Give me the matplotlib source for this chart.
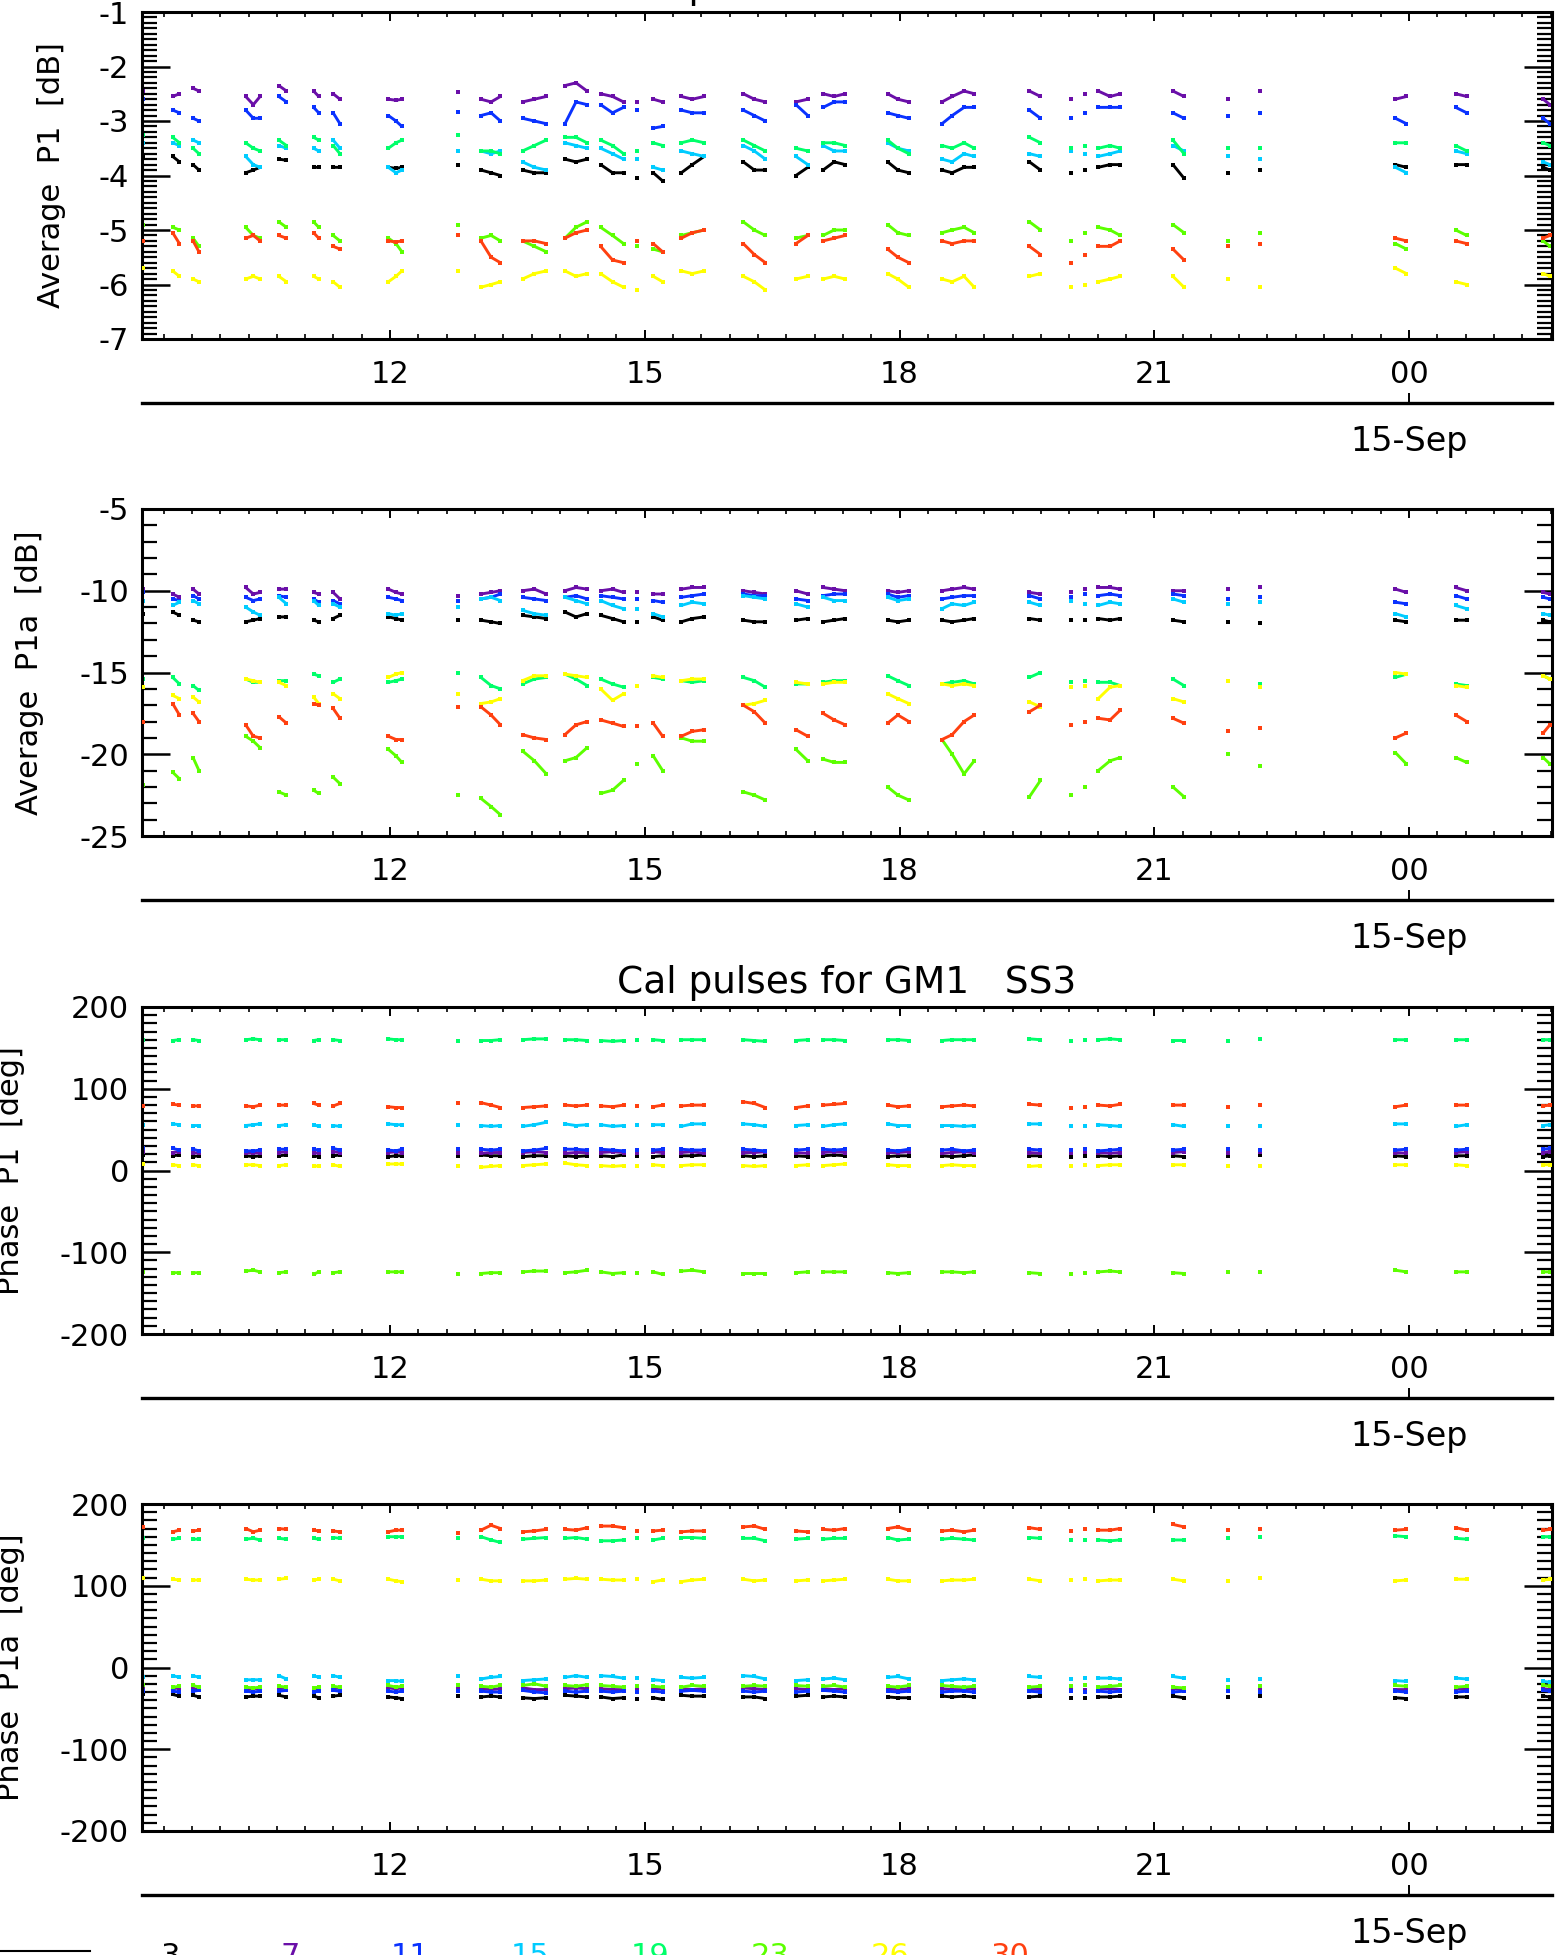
import numpy as np
import matplotlib
matplotlib.use("Agg")
import matplotlib.pyplot as plt
from matplotlib.ticker import MultipleLocator, FuncFormatter

plt.rcParams['font.family'] = ['DejaVu Sans']
plt.rcParams['axes.unicode_minus'] = False

# ---------------- data ----------------
channels = ['3', '7', '11', '15', '19', '23', '26', '30']
channel_colors = ['#000000', '#6a0fa8', '#0a32ff', '#00ccff', '#00ff6a', '#5cff00', '#ffff00', '#ff4010']

title_text = 'Cal pulses for GM1   SS3'
date_tick_hour = 24.0
date_tick_label = '15-Sep'
x_range_hours = (9.073, 25.684)

# observation times (hours since 14-Sep 00:00)
time_h = [9.09,
          9.44, 9.52, 9.68, 9.75,
          10.30, 10.39, 10.47,
          10.69, 10.78,
          11.10, 11.16,
          11.33, 11.41,
          11.98, 12.07, 12.14,
          12.80,
          13.07, 13.19, 13.30,
          13.56, 13.70, 13.84,
          14.06, 14.19, 14.32,
          14.48, 14.62, 14.75,
          14.91,
          15.10, 15.21,
          15.43, 15.56, 15.70,
          16.16, 16.29, 16.42,
          16.78, 16.92,
          17.10, 17.23, 17.36,
          17.86, 17.98, 18.11,
          18.50, 18.62, 18.76, 18.88,
          19.53, 19.66,
          20.02, 20.18, 20.34, 20.48, 20.60,
          21.22, 21.35,
          21.87,
          22.24,
          23.84, 23.97,
          24.55, 24.68,
          25.58, 25.66]

# ---- Average P1 [dB] ----
amp_p1_ch03 = [-3.65, -3.65, -3.75, -3.8, -3.9, -3.95, -3.9, -3.85, -3.7, -3.72, -3.85, -3.85, -3.85, -3.85,
               -3.85, -3.87, -3.85, -3.8, -3.9, -3.95, -4.0, -3.9, -3.95, -3.95, -3.7, -3.75, -3.7,
               -3.8, -3.95, -3.95, -4.05, -3.95, -4.1, -3.95, -3.8, -3.65, -3.75, -3.9, -3.9, -4.0, -3.85,
               -3.9, -3.75, -3.8, -3.75, -3.9, -3.95, -3.9, -3.95, -3.85, -3.85, -3.75, -3.9,
               -3.95, -3.9, -3.85, -3.8, -3.8, -3.8, -4.05, -3.95, -3.9, -3.8, -3.85, -3.8, -3.8, -3.85, -3.9]
amp_p1_ch07 = [-2.45, -2.55, -2.5, -2.4, -2.45, -2.55, -2.7, -2.55, -2.35, -2.45, -2.45, -2.55, -2.5, -2.6,
               -2.6, -2.62, -2.6, -2.47, -2.6, -2.65, -2.55, -2.65, -2.6, -2.55, -2.35, -2.3, -2.45,
               -2.5, -2.55, -2.65, -2.65, -2.6, -2.65, -2.55, -2.6, -2.55, -2.5, -2.6, -2.65, -2.65, -2.6,
               -2.5, -2.55, -2.5, -2.5, -2.6, -2.65, -2.65, -2.55, -2.45, -2.5, -2.45, -2.55,
               -2.6, -2.5, -2.45, -2.55, -2.5, -2.45, -2.55, -2.6, -2.45, -2.6, -2.55, -2.5, -2.55, -2.6, -2.7]
amp_p1_ch11 = [-2.6, -2.8, -2.85, -2.95, -3.0, -2.8, -2.95, -2.95, -2.55, -2.65, -2.75, -2.85, -2.85, -3.05,
               -2.9, -3.0, -3.1, -2.83, -2.9, -2.85, -3.0, -2.95, -3.0, -3.05, -3.05, -2.65, -2.7,
               -2.7, -2.85, -2.75, -2.8, -3.13, -3.1, -2.8, -2.85, -2.85, -2.8, -2.9, -3.0, -2.7, -2.9,
               -2.75, -2.65, -2.65, -2.85, -2.9, -2.95, -3.05, -2.9, -2.75, -2.75, -2.8, -2.95,
               -2.95, -2.85, -2.75, -2.75, -2.75, -2.85, -2.95, -2.9, -2.85, -2.95, -3.05, -2.75, -2.85, -2.95, -3.05]
amp_p1_ch15 = [-3.4, -3.4, -3.45, -3.35, -3.4, -3.65, -3.8, -3.85, -3.45, -3.5, -3.5, -3.55, -3.35, -3.5,
               -3.85, -3.95, -3.9, -3.55, -3.55, -3.6, -3.55, -3.75, -3.85, -3.9, -3.4, -3.45, -3.5,
               -3.5, -3.6, -3.7, -3.7, -3.85, -3.9, -3.55, -3.6, -3.65, -3.45, -3.55, -3.7, -3.65, -3.8,
               -3.45, -3.55, -3.55, -3.4, -3.5, -3.55, -3.7, -3.75, -3.6, -3.65, -3.6, -3.65,
               -3.55, -3.6, -3.65, -3.6, -3.55, -3.45, -3.55, -3.65, -3.7, -3.85, -3.95, -3.55, -3.6, -3.75, -3.8]
amp_p1_ch19 = [-3.25, -3.3, -3.4, -3.5, -3.6, -3.4, -3.5, -3.55, -3.35, -3.45, -3.3, -3.35, -3.45, -3.6,
               -3.5, -3.4, -3.35, -3.25, -3.55, -3.55, -3.6, -3.55, -3.45, -3.35, -3.3, -3.3, -3.4,
               -3.35, -3.45, -3.6, -3.55, -3.4, -3.45, -3.4, -3.35, -3.4, -3.35, -3.45, -3.55, -3.5, -3.55,
               -3.4, -3.4, -3.45, -3.35, -3.5, -3.6, -3.45, -3.5, -3.4, -3.5, -3.3, -3.4,
               -3.5, -3.45, -3.5, -3.45, -3.5, -3.35, -3.6, -3.5, -3.5, -3.4, -3.4, -3.45, -3.55, -3.4, -3.45]
amp_p1_ch23 = [-4.9, -4.95, -5.0, -5.15, -5.3, -4.95, -5.1, -5.15, -4.85, -4.95, -4.85, -4.95, -5.1, -5.2,
               -5.15, -5.25, -5.4, -4.9, -5.15, -5.1, -5.2, -5.2, -5.3, -5.4, -5.15, -4.95, -4.85,
               -4.95, -5.1, -5.25, -5.3, -5.35, -5.4, -5.1, -5.05, -5.0, -4.85, -5.0, -5.1, -5.15, -5.1,
               -5.1, -5.0, -5.0, -4.9, -5.05, -5.1, -5.05, -5.0, -4.95, -5.05, -4.85, -5.0,
               -5.2, -5.05, -4.95, -5.0, -5.1, -4.9, -5.05, -5.2, -5.05, -5.25, -5.35, -5.0, -5.1, -5.2, -5.3]
amp_p1_ch26 = [-5.7, -5.75, -5.85, -5.9, -5.95, -5.9, -5.85, -5.9, -5.85, -5.95, -5.85, -5.9, -5.95, -6.05,
               -5.95, -5.85, -5.75, -5.75, -6.05, -6.0, -5.95, -5.9, -5.8, -5.75, -5.75, -5.85, -5.8,
               -5.8, -5.95, -6.05, -6.1, -5.85, -5.95, -5.75, -5.8, -5.75, -5.85, -5.95, -6.1, -5.9, -5.85,
               -5.9, -5.85, -5.9, -5.8, -5.9, -6.05, -5.9, -5.95, -5.85, -6.05, -5.85, -5.8,
               -6.05, -6.0, -5.95, -5.9, -5.85, -5.85, -6.05, -5.9, -6.05, -5.7, -5.8, -5.95, -6.0, -5.8, -5.85]
amp_p1_ch30 = [-5.2, -5.05, -5.25, -5.2, -5.4, -5.15, -5.1, -5.2, -5.1, -5.15, -5.05, -5.15, -5.3, -5.35,
               -5.2, -5.22, -5.2, -5.1, -5.2, -5.5, -5.6, -5.2, -5.2, -5.25, -5.15, -5.05, -5.0,
               -5.3, -5.55, -5.6, -5.2, -5.25, -5.4, -5.15, -5.05, -5.0, -5.25, -5.45, -5.6, -5.25, -5.1,
               -5.2, -5.15, -5.1, -5.35, -5.5, -5.6, -5.2, -5.25, -5.2, -5.2, -5.3, -5.45,
               -5.6, -5.45, -5.3, -5.3, -5.2, -5.35, -5.55, -5.3, -5.25, -5.15, -5.2, -5.2, -5.25, -5.15, -5.1]

# ---- Average P1a [dB] ----
amp_p1a_ch03 = [-11.4, -11.3, -11.5, -11.8, -11.9, -11.9, -11.8, -11.7, -11.6, -11.6, -11.8, -11.9, -11.7, -11.5,
                -11.6, -11.7, -11.8, -11.8, -11.8, -11.9, -12.0, -11.5, -11.6, -11.7, -11.3, -11.6, -11.4,
                -11.5, -11.7, -11.9, -11.9, -11.6, -11.8, -11.9, -11.7, -11.6, -11.8, -11.9, -11.9, -11.8, -11.7,
                -11.9, -11.8, -11.7, -11.8, -11.9, -11.8, -11.8, -11.9, -11.8, -11.7, -11.7, -11.8,
                -11.8, -11.8, -11.7, -11.8, -11.7, -11.8, -11.9, -11.9, -12.0, -11.8, -11.9, -11.8, -11.8, -11.8, -11.9]
amp_p1a_ch07 = [-9.9, -10.2, -10.4, -9.9, -10.2, -9.8, -10.2, -10.1, -9.9, -9.9, -10.1, -10.2, -10.1, -10.5,
                -9.9, -10.1, -10.2, -10.3, -10.2, -10.1, -10.0, -10.0, -9.9, -10.2, -10.0, -9.8, -9.9,
                -10.0, -9.9, -10.1, -10.1, -10.2, -10.2, -9.9, -9.8, -9.8, -10.0, -10.1, -10.2, -10.0, -10.2,
                -9.8, -9.9, -10.0, -10.0, -10.1, -10.0, -10.0, -9.9, -9.8, -9.9, -10.1, -10.2,
                -10.1, -9.9, -9.8, -9.8, -9.9, -10.0, -10.0, -9.9, -9.8, -9.9, -10.1, -9.8, -10.0, -10.1, -10.2]
amp_p1a_ch11 = [-10.1, -10.5, -10.6, -10.3, -10.5, -10.4, -10.6, -10.5, -10.3, -10.4, -10.5, -10.7, -10.6, -10.8,
                -10.4, -10.5, -10.6, -10.6, -10.5, -10.4, -10.2, -10.4, -10.5, -10.6, -10.4, -10.3, -10.5,
                -10.3, -10.4, -10.5, -10.5, -10.6, -10.7, -10.4, -10.3, -10.2, -10.2, -10.3, -10.3, -10.5, -10.6,
                -10.3, -10.2, -10.2, -10.2, -10.4, -10.3, -10.5, -10.4, -10.3, -10.3, -10.3, -10.5,
                -10.4, -10.2, -10.3, -10.2, -10.3, -10.2, -10.3, -10.5, -10.4, -10.7, -10.8, -10.3, -10.5, -10.4, -10.5]
amp_p1a_ch15 = [-10.6, -10.9, -10.7, -10.6, -10.8, -11.0, -11.3, -11.5, -10.4, -10.8, -10.6, -10.9, -10.8, -11.0,
                -11.4, -11.5, -11.4, -11.0, -10.5, -10.4, -10.6, -11.2, -11.4, -11.5, -10.4, -10.6, -10.8,
                -10.6, -10.9, -11.1, -11.1, -11.4, -11.6, -10.9, -10.7, -10.8, -10.3, -10.4, -10.5, -10.8, -11.0,
                -10.4, -10.6, -10.6, -10.4, -10.6, -10.5, -11.1, -10.8, -10.9, -10.7, -10.7, -10.9,
                -10.6, -10.8, -10.9, -10.7, -10.8, -10.5, -10.7, -10.8, -10.7, -11.4, -11.6, -10.9, -11.1, -11.4, -11.5]
amp_p1a_ch19 = [-15.4, -15.3, -15.7, -15.8, -16.1, -15.4, -15.6, -15.6, -15.5, -15.5, -15.1, -15.2, -15.6, -15.4,
                -15.6, -15.5, -15.4, -15.0, -15.3, -15.8, -16.0, -15.7, -15.4, -15.3, -15.1, -15.4, -15.8,
                -15.4, -15.7, -15.9, -15.8, -15.3, -15.4, -15.5, -15.6, -15.5, -15.3, -15.5, -15.9, -15.7, -15.7,
                -15.6, -15.5, -15.5, -15.2, -15.5, -15.8, -15.7, -15.6, -15.5, -15.7, -15.3, -15.0,
                -15.6, -15.5, -15.6, -15.6, -15.8, -15.4, -15.8, -15.5, -15.7, -15.3, -15.1, -15.7, -15.8, -15.2, -15.4]
amp_p1a_ch23 = [-21.9, -21.1, -21.5, -20.2, -21.0, -18.9, -19.2, -19.6, -22.3, -22.5, -22.2, -22.4, -21.4, -21.8,
                -19.7, -20.1, -20.5, -22.5, -22.7, -23.2, -23.7, -19.8, -20.4, -21.2, -20.4, -20.2, -19.6,
                -22.4, -22.2, -21.6, -20.6, -20.1, -21.0, -19.0, -19.2, -19.2, -22.3, -22.5, -22.8, -19.7, -20.4,
                -20.3, -20.5, -20.5, -22.0, -22.5, -22.8, -19.1, -20.0, -21.2, -20.4, -22.6, -21.6,
                -22.5, -22.0, -21.0, -20.4, -20.2, -22.0, -22.6, -20.0, -20.7, -19.9, -20.6, -20.2, -20.5, -20.2, -20.6]
amp_p1a_ch26 = [-15.9, -16.4, -16.6, -16.5, -16.8, -15.4, -15.5, -15.6, -15.6, -15.8, -16.5, -16.9, -16.3, -16.6,
                -15.3, -15.1, -15.0, -16.3, -16.9, -16.8, -16.6, -15.5, -15.2, -15.2, -15.1, -15.2, -15.3,
                -16.0, -16.7, -16.3, -15.8, -15.2, -15.3, -15.5, -15.4, -15.4, -17.0, -16.9, -16.7, -15.6, -15.7,
                -15.7, -15.6, -15.6, -16.3, -16.6, -16.9, -15.7, -15.8, -15.7, -15.8, -16.8, -17.1,
                -15.9, -15.8, -16.6, -15.9, -15.8, -16.6, -16.8, -15.5, -15.9, -15.0, -15.1, -15.8, -15.9, -15.2, -15.4]
amp_p1a_ch30 = [-18.0, -16.9, -17.6, -17.5, -18.0, -18.2, -18.9, -19.0, -17.7, -18.1, -16.9, -17.0, -17.2, -17.8,
                -18.9, -19.1, -19.1, -17.1, -17.1, -17.6, -18.2, -18.8, -19.0, -19.1, -18.8, -18.2, -18.0,
                -17.9, -18.1, -18.3, -18.3, -18.1, -18.9, -18.9, -18.6, -18.5, -17.0, -17.4, -18.1, -18.5, -18.9,
                -17.5, -17.9, -18.2, -18.1, -17.6, -18.0, -19.1, -18.8, -18.0, -17.6, -17.4, -17.0,
                -18.2, -18.0, -17.8, -17.9, -17.3, -17.8, -18.1, -18.6, -18.4, -19.0, -18.7, -17.6, -18.0, -18.7, -18.2]

# ---- Phase P1 [deg] ----
ph_p1_ch03 = [19, 18, 19, 17, 18, 18, 17, 18, 18, 19, 18, 17, 18, 19, 17, 18, 18, 18, 19, 18, 18, 17, 18, 18,
              18, 17, 18, 18, 17, 19, 18, 17, 18, 18, 18, 19, 18, 17, 18, 18, 17, 18, 19, 18, 17, 18, 18,
              18, 17, 18, 19, 18, 18, 17, 18, 18, 17, 18, 18, 17, 18, 19, 18, 17, 18, 18, 17, 18]
ph_p1_ch07 = [23, 22, 23, 21, 22, 22, 21, 22, 22, 23, 21, 22, 23, 22, 22, 23, 22, 22, 21, 22, 22, 22, 23, 22,
              21, 22, 22, 22, 23, 22, 22, 23, 22, 22, 23, 21, 22, 22, 23, 22, 21, 22, 23, 22, 22, 22, 23,
              21, 22, 23, 22, 22, 21, 22, 23, 22, 21, 22, 22, 23, 22, 23, 22, 21, 22, 23, 22, 23]
ph_p1_ch11 = [27, 27, 25, 26, 24, 24, 24, 25, 26, 26, 26, 25, 27, 25, 25, 24, 26, 26, 26, 25, 26, 24, 25, 27,
              26, 26, 25, 26, 25, 24, 25, 25, 26, 26, 25, 25, 26, 25, 24, 25, 26, 26, 25, 26, 25, 24, 26,
              25, 26, 24, 25, 26, 25, 25, 26, 24, 25, 26, 25, 26, 26, 25, 25, 26, 25, 26, 26, 27]
ph_p1_ch15 = [56, 57, 56, 55, 55, 55, 56, 57, 55, 56, 56, 54, 55, 54, 57, 56, 56, 56, 55, 54, 55, 54, 56, 59,
              57, 55, 56, 56, 54, 55, 56, 56, 56, 54, 57, 57, 57, 56, 54, 55, 56, 54, 56, 57, 57, 55, 55,
              55, 55, 54, 55, 57, 57, 54, 55, 56, 55, 54, 56, 54, 54, 55, 57, 57, 54, 56, 55, 56]
ph_p1_ch19 = [160, 159, 160, 160, 159, 160, 161, 160, 160, 160, 159, 160, 160, 159, 161, 160, 160, 158, 159, 159,
              160, 160, 161, 161, 160, 160, 159, 159, 158, 159, 160, 160, 159, 160, 160, 160, 160, 159, 158,
              159, 160, 160, 160, 159, 160, 160, 159, 159, 160, 160, 160, 161, 160, 159, 160, 160, 161, 160,
              159, 159, 159, 161, 160, 160, 160, 160, 160, 160]
ph_p1_ch23 = [-124, -125, -125, -125, -125, -123, -122, -124, -125, -124, -127, -124, -125, -124, -124, -124, -124,
              -127, -126, -125, -125, -124, -123, -123, -125, -124, -122, -124, -126, -125, -125, -124, -127,
              -123, -122, -124, -126, -126, -126, -125, -124, -124, -124, -124, -125, -126, -125, -124, -124,
              -125, -124, -125, -126, -126, -125, -124, -123, -124, -125, -126, -124, -124, -122, -124, -124,
              -124, -124, -124]
ph_p1_ch26 = [8, 7, 6, 7, 6, 7, 7, 6, 6, 7, 6, 5, 7, 5, 8, 8, 8, 5, 4, 5, 6, 6, 7, 8, 9, 7, 6, 6, 5, 6, 6,
              7, 6, 6, 7, 7, 6, 5, 6, 6, 7, 6, 7, 8, 7, 6, 6, 6, 7, 6, 6, 5, 6, 6, 7, 6, 7, 7, 7, 7, 6, 6,
              7, 7, 7, 6, 7, 7]
ph_p1_ch30 = [79, 81, 80, 79, 79, 79, 78, 80, 80, 80, 82, 80, 79, 82, 78, 77, 77, 83, 83, 80, 77, 77, 78, 79,
              80, 79, 80, 79, 78, 80, 79, 78, 80, 79, 80, 80, 84, 82, 77, 77, 79, 80, 81, 82, 80, 78, 79,
              78, 79, 80, 79, 81, 80, 77, 78, 80, 79, 81, 80, 80, 78, 80, 78, 80, 80, 80, 79, 80]

# ---- Phase P1a [deg] ----
ph_p1a_ch03 = [-33, -33, -35, -34, -36, -36, -35, -35, -34, -36, -35, -37, -35, -34, -36, -37, -38, -35, -36, -35,
               -36, -37, -38, -37, -34, -35, -36, -36, -38, -37, -39, -37, -39, -34, -35, -35, -36, -36, -38,
               -35, -34, -36, -35, -36, -36, -37, -37, -35, -36, -35, -36, -36, -35, -37, -37, -36, -36, -35,
               -35, -37, -36, -35, -37, -38, -36, -36, -35, -36]
ph_p1a_ch07 = [-25, -26, -25, -26, -27, -27, -26, -26, -26, -25, -27, -26, -26, -25, -25, -26, -25, -26, -26, -27,
               -26, -25, -27, -27, -26, -25, -26, -26, -27, -27, -26, -27, -26, -26, -27, -26, -25, -26, -27,
               -26, -27, -26, -27, -26, -26, -27, -26, -26, -27, -27, -26, -26, -27, -26, -27, -26, -26, -27,
               -26, -27, -27, -26, -27, -27, -26, -27, -26, -27]
ph_p1a_ch11 = [-29, -29, -30, -29, -28, -29, -30, -29, -29, -28, -30, -29, -28, -29, -29, -30, -29, -29, -29, -30,
               -30, -28, -30, -31, -29, -30, -29, -29, -30, -29, -30, -29, -30, -29, -28, -29, -29, -30, -29,
               -30, -29, -28, -29, -30, -29, -30, -29, -30, -29, -29, -30, -29, -30, -29, -30, -29, -30, -29,
               -30, -29, -29, -30, -29, -30, -30, -29, -28, -29]
ph_p1a_ch15 = [-12, -10, -12, -10, -12, -15, -15, -15, -10, -14, -10, -12, -10, -12, -16, -16, -17, -11, -14, -12,
               -11, -16, -15, -14, -12, -10, -12, -10, -11, -13, -13, -15, -16, -12, -13, -12, -10, -11, -14,
               -16, -15, -14, -13, -15, -12, -11, -14, -16, -15, -14, -15, -11, -12, -14, -13, -13, -13, -14,
               -11, -13, -15, -14, -16, -17, -13, -14, -17, -18]
ph_p1a_ch19 = [158, 157, 158, 157, 157, 157, 158, 156, 158, 157, 158, 157, 159, 158, 160, 160, 160, 158, 160, 156,
               153, 157, 158, 159, 158, 159, 157, 155, 155, 156, 158, 156, 158, 159, 159, 158, 158, 158, 155,
               157, 158, 157, 158, 158, 159, 156, 157, 157, 158, 157, 156, 159, 158, 156, 156, 156, 155, 156,
               156, 156, 159, 160, 161, 160, 158, 157, 160, 160]
ph_p1a_ch23 = [-22, -24, -23, -22, -24, -24, -25, -24, -23, -24, -25, -24, -23, -24, -22, -24, -23, -22, -23, -24,
               -22, -22, -20, -23, -22, -23, -21, -22, -23, -24, -23, -23, -24, -24, -22, -23, -23, -22, -23,
               -22, -23, -23, -22, -24, -23, -24, -22, -22, -23, -24, -23, -24, -23, -23, -22, -24, -23, -22,
               -24, -25, -24, -23, -22, -23, -24, -23, -22, -23]
ph_p1a_ch26 = [109, 108, 107, 107, 107, 108, 107, 107, 108, 109, 107, 108, 108, 106, 108, 106, 105, 107, 108, 106,
               106, 106, 106, 107, 108, 109, 108, 108, 107, 107, 108, 105, 107, 105, 107, 108, 108, 106, 107,
               106, 107, 106, 107, 108, 108, 106, 106, 106, 107, 107, 108, 108, 106, 107, 108, 106, 107, 107,
               108, 106, 106, 109, 106, 107, 108, 108, 107, 108]
ph_p1a_ch30 = [172, 166, 168, 167, 168, 170, 166, 168, 170, 169, 168, 167, 167, 166, 166, 168, 168, 165, 168, 174,
               170, 166, 167, 169, 169, 168, 171, 173, 173, 171, 167, 167, 168, 166, 167, 167, 172, 173, 169,
               167, 166, 169, 168, 170, 170, 172, 168, 167, 168, 166, 168, 171, 169, 167, 170, 168, 168, 170,
               175, 172, 168, 170, 168, 169, 171, 168, 168, 169]

panel_series = [
    [amp_p1_ch03, amp_p1_ch07, amp_p1_ch11, amp_p1_ch15, amp_p1_ch19, amp_p1_ch23, amp_p1_ch26, amp_p1_ch30],
    [amp_p1a_ch03, amp_p1a_ch07, amp_p1a_ch11, amp_p1a_ch15, amp_p1a_ch19, amp_p1a_ch23, amp_p1a_ch26, amp_p1a_ch30],
    [ph_p1_ch03, ph_p1_ch07, ph_p1_ch11, ph_p1_ch15, ph_p1_ch19, ph_p1_ch23, ph_p1_ch26, ph_p1_ch30],
    [ph_p1a_ch03, ph_p1a_ch07, ph_p1a_ch11, ph_p1a_ch15, ph_p1a_ch19, ph_p1a_ch23, ph_p1a_ch26, ph_p1a_ch30],
]
panel_ylabels = ['Average  P1  [dB]', 'Average  P1a  [dB]', 'Phase  P1  [deg]', 'Phase  P1a  [deg]']
panel_ylims = [(-7, -1), (-25, -5), (-200, 200), (-200, 200)]
panel_ymajor = [1, 5, 100, 100]
panel_yminor = [0.1, 1, 10, 10]
panel_titles = [title_text, None, title_text, None]

for p, ser in enumerate(panel_series):
    for c, s in enumerate(ser):
        assert len(s) == len(time_h), (p, c, len(s))

# ---------------- layout (pixels) ----------------
W, H = 1558, 1955
fig = plt.figure(figsize=(W / 100, H / 100), dpi=100)
ax_left, ax_right = 141.5, 1552.0
ax_h = 327.0
ax_tops = [12.0, 509.0, 1007.0, 1504.0]
ylabel_x = [52, 30, 11, 11]
FS = 22


def fx(px):
    return px / W


def fy(py):
    return 1 - py / H


def broken(t, v, gap=0.145):
    t = np.asarray(t, float)
    v = np.asarray(v, float)
    idx = np.where(np.diff(t) > gap)[0] + 1
    return np.insert(t, idx, np.nan), np.insert(v, idx, np.nan)


hour_fmt = FuncFormatter(lambda x, pos: f"{int(round(x)) % 24:02d}")
int_fmt = FuncFormatter(lambda v, pos: f"{int(round(v))}")

for p in range(4):
    top = ax_tops[p]
    bot = top + ax_h
    ax = fig.add_axes([fx(ax_left), fy(bot), fx(ax_right - ax_left), ax_h / H])
    for c in range(len(channels)):
        tb, vb = broken(time_h, panel_series[p][c])
        ax.plot(tb, vb, color=channel_colors[c], lw=2.1, solid_capstyle='butt', zorder=2 + c * 0.1)
        ax.plot(time_h, panel_series[p][c], ls='none', marker='s', ms=3.2, mew=0,
                color=channel_colors[c], zorder=2 + c * 0.1)
    ax.set_xlim(*x_range_hours)
    ax.set_ylim(*panel_ylims[p])
    ax.xaxis.set_major_locator(MultipleLocator(3))
    ax.xaxis.set_minor_locator(MultipleLocator(1 / 3))
    ax.xaxis.set_major_formatter(hour_fmt)
    ax.yaxis.set_major_locator(MultipleLocator(panel_ymajor[p]))
    ax.yaxis.set_minor_locator(MultipleLocator(panel_yminor[p]))
    ax.yaxis.set_major_formatter(int_fmt)
    ax.tick_params(which='both', direction='in', top=True, right=True, colors='black')
    ax.tick_params(axis='x', which='major', length=6.5, width=1.4, pad=15, labelsize=FS)
    ax.tick_params(axis='x', which='minor', length=3.6, width=1.2)
    ax.tick_params(axis='y', which='major', length=20, width=1.8, pad=9, labelsize=FS)
    ax.tick_params(axis='y', which='minor', length=10.5, width=1.6)
    for sp in ax.spines.values():
        sp.set_linewidth(2.2)
    if panel_titles[p]:
        ax.set_title(panel_titles[p], fontsize=27, pad=10)
    fig.text(fx(ylabel_x[p]), fy(top + ax_h / 2), panel_ylabels[p], rotation=90,
             ha='center', va='center', fontsize=FS)

    # secondary date axis under each panel
    dax = fig.add_axes([fx(ax_left), fy(bot + 64), fx(ax_right - ax_left), 0.0001])
    dax.set_xlim(*x_range_hours)
    dax.set_ylim(0, 1)
    for name, sp in dax.spines.items():
        sp.set_visible(name == 'bottom')
    dax.spines['bottom'].set_linewidth(2.4)
    dax.set_yticks([])
    dax.set_xticks([date_tick_hour])
    dax.set_xticklabels([date_tick_label])
    dax.tick_params(axis='x', direction='in', length=7, width=1.4, pad=16, labelsize=FS + 2)
    dax.patch.set_visible(False)

# legend strip at the bottom (largely cut by the page edge, as in the source page)
fig.add_artist(plt.Line2D([fx(0), fx(90)], [fy(1951), fy(1951)], color='black', lw=1.5))
for i, (lab, col) in enumerate(zip(channels, channel_colors)):
    fig.text(fx(170 + 120 * i), fy(1942), lab, color=col, ha='center', va='top', fontsize=FS)

fig.savefig('out.png', dpi=100)
